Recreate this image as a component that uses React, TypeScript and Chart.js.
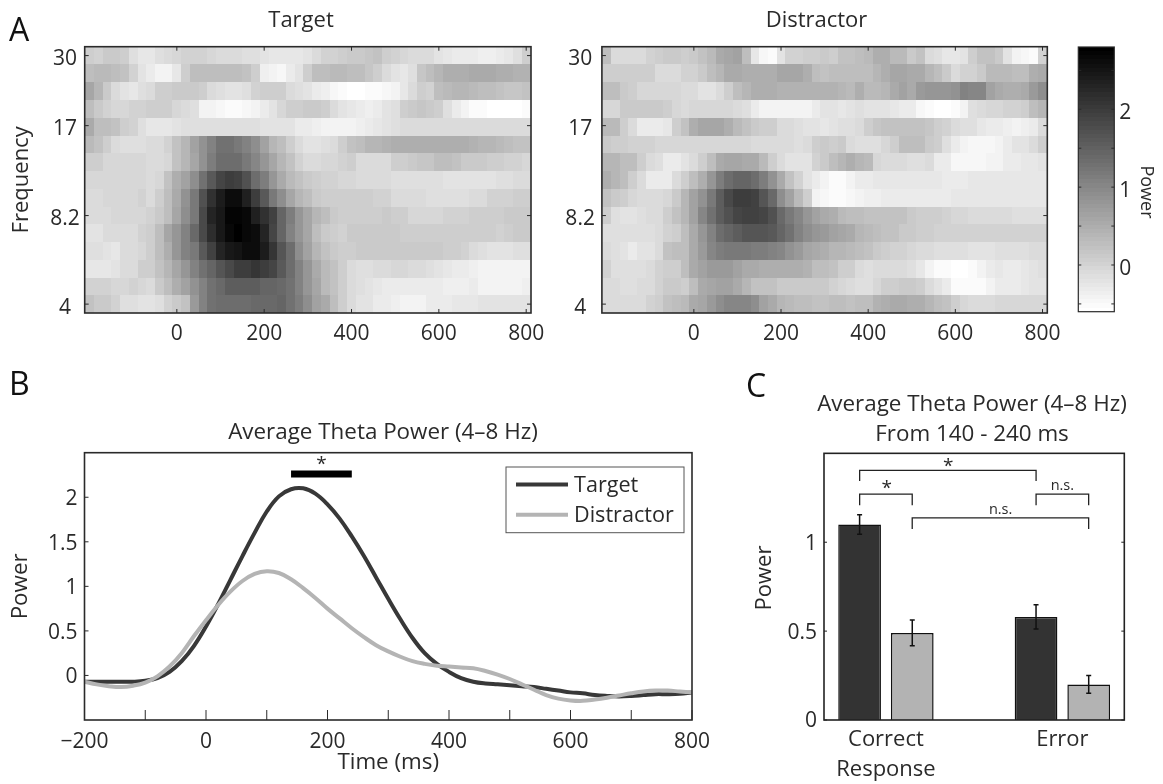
import React, { useEffect, useRef } from "react";
import { Chart, registerables } from "chart.js";

Chart.register(...registerables);

const FONT = '"Open Sans", sans-serif';
const INK = "#2a2a2a";

const frequencies = [30, 25.98, 22.5, 19.48, 16.87, 14.6, 12.65, 10.95, 9.48, 8.21, 7.11, 6.16, 5.33, 4.62, 4];
const times = [-200,-180,-160,-140,-120,-100,-80,-60,-40,-20,0,20,40,60,80,100,120,140,160,180,200,220,240,260,280,300,320,340,360,380,400,420,440,460,480,500,520,540,560,580,600,620,640,660,680,700,720,740,760,780,800];

const targetPower = [
  [.07,0,.13,.13,.07,-.13,-.24,-.24,-.16,-.07, -.03,0,.03,0,-.03,-.07,-.07,-.07,-.13,-.16, -.2,-.24,-.27,-.27,-.24,-.2,-.07,0,.03,.07, .13,.13,.16,.2,.07,0,-.03,-.07,-.07,-.11, -.2,-.27,-.29,-.29,-.33,-.37,-.37,-.29,-.24,-.16, .07],
  [.27,.33,.33,.27,.2,0,-.2,-.33,-.4,-.4, -.24,.07,.27,.29,.29,.29,.29,.27,.2,.07, -.37,-.4,-.47,-.33,-.2,.07,.27,.27,.33,.33, .29,.27,.16,.07,-.07,-.2,-.24,-.16,.16,.27, .4,.47,.51,.51,.56,.56,.53,.47,.47,.43, .43],
  [.6,.4,.13,-.07,-.2,-.27,-.16,-.07,.07,.07, .13,.13,.11,.07,-.07,-.16,-.2,-.2,-.13,0, .07,.07,.07,-.07,-.16,-.2,-.29,-.37,-.47,-.53, -.6,-.56,-.53,-.51,-.47,-.43,-.27,-.07,.07,0, .27,.33,.37,.37,.33,.29,.27,.2,.16,.16, .2],
  [.27,.13,0,-.03,-.03,0,.03,.07,.07,.07, -.03,-.11,-.16,-.4,-.43,-.47,-.51,-.51,-.47,-.4, -.33,-.2,-.03,.07,.07,.13,.13,.07,-.07,-.2, -.24,-.29,-.37,-.33,-.2,-.13,.07,.11,.16,.13, .07,-.13,-.33,-.4,-.51,-.53,-.6,-.6,-.6,-.6, -.53],
  [.53,.27,.27,.2,.07,0,-.16,-.24,-.24,-.24, -.2,-.16,-.13,-.13,-.13,-.16,-.16,-.16,-.16,-.16, -.2,-.2,-.2,-.2,-.29,-.33,-.37,-.4,-.43,-.43, -.4,-.37,-.33,-.27,-.2,-.13,-.11,-.11,-.11,-.11, -.11,-.11,-.11,-.11,-.07,-.07,-.07,-.07,-.07,-.07, -.07],
  [.33,.2,.07,-.07,-.13,-.13,-.16,-.07,-.07,0, .2,.4,.67,.87,1.07,1.27,1.27,1.2,1.07,.93, .67,.4,.27,.07,-.07,-.2,-.2,-.13,-.07,.07, .2,.27,.4,.4,.43,.47,.51,.51,.51,.47, .47,.47,.51,.47,.43,.4,.37,.33,.29,.2, .2],
  [.07,.07,-.03,-.03,-.03,-.03,-.03,-.11,-.07,-.03, .2,.4,.6,.87,1.13,1.33,1.33,1.33,1.2,1, .8,.6,.4,.2,0,-.07,-.07,-.03,-.03,0, .07,-.07,-.11,-.11,-.07,.07,.07,.13,.16,.16, .27,.27,.2,.13,.13,.13,.07,.07,0,0, -.03],
  [-.03,-.03,-.03,-.03,-.03,-.03,-.03,-.07,-.03,.2, .47,.67,.93,1.27,1.6,1.87,2,1.93,1.73,1.33, 1.13,.8,.53,.33,.2,.13,.07,0,0,-.03, -.03,-.07,-.11,-.07,-.07,-.13,-.13,-.13,-.13,-.13, -.13,-.2,-.2,-.2,-.2,-.2,-.2,-.16,-.13,-.11, -.07],
  [-.11,-.11,-.03,-.03,-.03,-.03,0,-.07,.07,.27, .53,.87,1.2,1.73,2.13,2.4,2.6,2.6,2.33,2, 1.6,1.2,.93,.6,.4,.27,.13,.07,.07,.07, .07,.07,.07,.03,0,-.07,-.07,-.07,-.11,-.16, -.16,-.16,-.16,-.16,-.11,-.07,0,.03,.03,.07, .07],
  [-.11,-.11,-.07,-.03,-.03,-.03,-.03,0,.13,.27, .6,.93,1.2,1.8,2.27,2.47,2.73,2.73,2.67,2.33, 2.13,1.93,1.47,1.13,.8,.6,.4,.27,.13,.07, .07,.07,.07,.07,.13,.07,.07,-.03,-.03,-.03, -.03,0,0,.03,.07,.07,.07,.07,.13,.13, .13],
  [-.2,-.2,-.11,-.07,-.07,-.07,0,.07,.27,.6, .8,1.07,1.4,1.8,2.2,2.47,2.67,2.8,2.69,2.6, 2.3,1.87,1.47,1.07,.8,.6,.27,.13,.07,.03, .1,.13,.13,.13,.13,.13,.07,.07,.07,.07, .07,.07,.07,.07,.07,.07,.07,.03,.07,.13, .13],
  [-.13,-.13,-.2,-.24,-.11,-.07,-.03,.07,.27,.47, .8,1.07,1.2,1.6,1.93,2.27,2.47,2.53,2.6,2.6, 2.4,2.07,1.67,1.33,.93,.67,.4,.2,.13,.07, .07,.1,.13,.13,.13,.13,.1,.1,.1,.1, .1,.07,.07,0,-.07,-.13,-.2,-.2,-.2,-.16, -.16],
  [-.24,-.24,-.24,-.2,-.11,-.07,.07,.07,.2,.4, .6,.8,1.07,1.27,1.47,1.67,1.8,2,2,2.07, 2,1.87,1.6,1.33,1.07,.8,.53,.33,.2,.07, -.07,-.16,-.16,-.07,-.07,-.03,-.03,-.11,-.11,-.16, -.2,-.24,-.29,-.33,-.37,-.4,-.4,-.4,-.4,-.4, -.4],
  [.03,.03,0,-.03,-.03,0,-.05,-.07,.13,.27, .47,.67,.87,1.07,1.27,1.4,1.53,1.53,1.53,1.53, 1.47,1.47,1.4,1.27,1.07,.8,.6,.33,.2,.07, -.07,-.16,-.2,-.27,-.33,-.33,-.33,-.33,-.33,-.33, -.33,-.37,-.37,-.37,-.33,-.4,-.4,-.4,-.4,-.43, -.37],
  [.2,.13,.13,.03,-.13,-.16,-.2,-.2,-.16,0, .13,.2,.73,1.07,1.27,1.33,1.33,1.33,1.33,1.4, 1.4,1.4,1.47,1.27,1.13,.93,.67,.53,.27,.07, -.07,-.2,-.2,-.33,-.33,-.37,-.4,-.4,-.4,-.33, -.29,-.29,-.24,-.24,-.24,-.2,-.2,-.2,-.2,-.2, -.2],
];

const distractorPower = [
  [.27,-.07,-.07,-.11,-.11,0,.07,.13,.13,.07, .13,.2,.33,.53,.6,.67,.27,-.27,-.47,-.51, -.2,0,0,.07,.07,.13,.07,.2,.2,.27, .33,.47,.47,.33,.33,.13,.2,-.07,-.13,-.24, -.24,-.2,.07,.2,.2,.13,-.2,-.4,-.47,-.53, 0],
  [.07,.07,.07,.07,.07,.07,-.07,-.07,-.07,.03, .03,.13,.27,.4,.53,.53,.51,.51,.51,.51, .6,.6,.6,.51,.27,.24,.27,.27,.27,.27, .27,.4,.47,.6,.6,.53,.53,.4,.27,.13, -.07,0,0,.13,.33,.33,.33,.27,.27,.47, .53],
  [.27,.27,.13,.07,-.03,-.03,-.03,-.03,-.03,-.11, -.11,-.2,-.2,-.07,.07,.27,.4,.47,.47,.47, .43,.43,.43,.43,.43,.43,.43,.4,.33,.47, .33,.33,.4,.53,.67,.53,.73,.8,.8,.8, .87,1.07,1,1,.67,.53,.47,.47,.53,.73, .93],
  [-.03,-.03,.13,.13,.13,.13,.13,.07,-.03,-.11, -.03,-.03,-.03,-.03,-.03,-.11,-.13,-.29,-.4,-.4, -.43,-.43,-.43,-.43,-.29,-.2,-.2,-.24,-.2,-.16, -.2,-.2,-.2,-.27,-.29,-.29,-.47,-.53,-.56,-.6, -.53,-.4,-.13,-.07,-.03,-.03,.03,.03,.07,.27, .4],
  [.33,.33,.07,-.07,-.29,-.33,-.29,-.24,.07,.2, .47,.6,.6,.6,.47,.33,.2,.13,.07,.07, -.07,-.11,-.13,-.2,-.2,-.24,-.2,-.16,-.16,-.11, .07,.16,.2,.2,.2,.2,.2,.16,.07,0, -.11,-.16,-.16,-.24,-.33,-.33,-.37,-.4,-.37,-.29, -.11],
  [.13,.07,.07,.03,0,0,-.03,-.03,-.03,-.03, -.03,-.03,-.03,-.03,-.03,-.03,-.03,-.07,-.07,-.07, -.11,-.11,-.13,-.11,.07,.13,.07,.13,-.07,-.16, -.16,-.16,-.03,.07,.27,.29,.29,.13,.07,-.13, -.33,-.43,-.47,-.47,-.47,-.4,-.29,-.2,-.2,-.07, .07],
  [.4,.4,.27,.27,.07,-.07,-.13,-.29,-.29,-.2, -.07,.07,.27,.53,.6,.6,.53,.53,.33,.07, -.07,-.2,-.2,-.2,0,.13,.27,.4,.47,.4, .33,-.03,-.07,-.07,-.11,-.13,-.13,-.07,-.29,-.33, -.47,-.47,-.47,-.47,-.4,-.4,-.29,-.29,-.27,-.27, -.2],
  [.47,.4,.27,.07,-.07,-.29,-.29,-.29,-.07,.07, .27,.47,.8,1.13,1.33,1.47,1.47,1.33,1.13,.87, .53,.2,0,-.2,-.33,-.4,-.51,-.51,-.4,-.33, -.29,-.24,-.24,-.24,-.24,-.24,-.24,-.24,-.24,-.29, -.29,-.29,-.24,-.24,-.24,-.24,-.24,-.24,-.24,-.24, -.24],
  [.2,.13,.07,-.03,-.11,-.11,-.11,-.03,.13,.4, .67,.87,1.2,1.53,1.8,2,2,1.93,1.67,1.4, .93,.67,.33,.07,-.4,-.47,-.53,-.53,-.47,-.4, -.37,-.37,-.29,-.29,-.29,-.29,-.29,-.29,-.29,-.29, -.27,-.27,-.27,-.27,-.27,-.27,-.27,-.27,-.27,-.27, -.27],
  [.07,-.16,-.2,-.2,-.16,-.07,-.07,.07,.2,.4, .67,1,1.27,1.53,1.73,1.87,1.93,1.93,1.87,1.73, 1.4,1.2,1,.8,.67,.53,.47,.33,.27,.27, .2,.2,.2,.2,.2,.13,.07,.07,.07,0, -.03,-.03,-.07,-.07,-.07,-.07,-.11,-.16,-.16,-.16, -.16],
  [-.16,-.16,-.16,-.16,-.16,-.16,-.07,0,.07,.27, .53,.8,1.07,1.33,1.47,1.53,1.67,1.67,1.67,1.6, 1.47,1.27,1.07,.93,.8,.73,.67,.6,.53,.4, .33,.27,.2,.2,.13,.13,.07,.07,.03,.03, .03,.03,.03,.03,.03,.03,.03,0,0,0, 0],
  [-.11,-.16,-.2,-.33,-.2,-.2,-.11,.2,.27,.27, .53,.73,1,1.13,1.2,1.2,1.2,1.13,1.13,1.07, 1,.87,.73,.6,.53,.47,.4,.4,.33,.27, .2,.13,.07,.03,0,-.03,-.07,-.07,-.16,-.16, -.16,-.16,-.2,-.2,-.2,-.16,-.16,-.13,-.13,-.11, -.11],
  [0,-.16,-.16,-.16,-.16,-.07,0,.07,.07,.27, .53,.67,.73,.73,.73,.67,.53,.53,.47,.47, .47,.47,.47,.43,.27,.27,.2,.07,.07,-.07, -.13,-.11,-.11,-.11,-.11,-.13,-.24,-.4,-.51,-.53, -.6,-.6,-.53,-.43,-.33,-.24,-.29,-.33,-.27,-.2, -.16],
  [-.07,-.07,-.16,-.16,-.11,-.07,0,.13,.13,.07, .27,.53,.6,.67,.67,.53,.4,.2,.2,.2, .13,.13,.13,.13,.13,.13,0,-.03,-.11,-.13, -.13,-.03,.07,.07,.13,.13,.07,-.07,-.2,-.33, -.51,-.53,-.53,-.53,-.43,-.33,-.29,-.29,-.24,-.2, -.2],
  [-.07,-.07,-.07,-.11,-.07,0,.07,.2,.27,.33, .53,.6,.73,.93,1,1,1,.93,.67,.53, .4,.33,.27,.27,.2,.2,.27,.27,.2,.27, .27,.43,.51,.53,.53,.51,.47,.37,.29,.2, .07,-.03,-.07,-.07,-.07,-.03,-.03,-.03,-.03,-.03, -.03],
];

const heatXTicks = [0, 200, 400, 600, 800];
const heatYTicks = [4, 8.2, 17, 30];
const colorTicks = [-0.5, 0, 0.5, 1, 1.5, 2, 2.5];

const targetLine = [-.07,-.07,-.07,-.07,-.07,-.06,-.03,.04,.16,.33, .55,.8,1.07,1.34,1.6,1.84,2.01,2.09,2.1,2.04, 1.92,1.76,1.56,1.34,1.1,.86,.63,.42,.25,.13, .04,-.03,-.07,-.09,-.1,-.11,-.12,-.13,-.15,-.17, -.19,-.2,-.22,-.23,-.235,-.23,-.22,-.21,-.21,-.205, -.19];
const distractorLine = [-.07,-.1,-.12,-.13,-.115,-.08,-.01,.1,.25,.44, .62,.79,.94,1.06,1.14,1.17,1.15,1.08,.98,.87, .75,.64,.53,.43,.34,.27,.21,.16,.13,.11, .1,.09,.08,.05,.01,-.04,-.1,-.16,-.22,-.26, -.28,-.285,-.27,-.25,-.225,-.2,-.18,-.17,-.17,-.18, -.19];
const sigWindow = [140, 240];
const sigLevel = 2.26;

const conditions = [1, 2];
const conditionLabels = [["Correct", "Response"], ["Error"]];
const targetBars = [1.1, 0.58];
const distractorBars = [0.49, 0.2];
const targetErr = [0.055, 0.068];
const distractorErr = [0.073, 0.05];
const barOffset = 0.149;

function grayFor(v: number) {
  const idx = Math.max(0, Math.min(63, Math.floor(((v + 0.6) / 3.4) * 64)));
  const g = Math.round(255 * (1 - idx / 63));
  return `rgb(${g},${g},${g})`;
}

const heatCells = {
  id: "heatCells",
  beforeDatasetsDraw(chart: any) {
    const { ctx, scales } = chart;
    const pts = chart.data.datasets[0].data;
    const xs: number[] = chart.options.plugins.heatCells.xs;
    const ys: number[] = chart.options.plugins.heatCells.ys;
    const xStep = xs.length > 1 ? Math.abs(scales.x.getPixelForValue(xs[1]) - scales.x.getPixelForValue(xs[0])) : chart.chartArea.width;
    const yPix = ys.map((y) => scales.y.getPixelForValue(y));
    ctx.save();
    const a = chart.chartArea;
    ctx.beginPath();
    ctx.rect(a.left, a.top, a.width, a.height);
    ctx.clip();
    for (const p of pts) {
      const cx = xs.length > 1 ? scales.x.getPixelForValue(p.x) : a.left + a.width / 2;
      const i = ys.indexOf(p.y);
      const up = i > 0 ? (yPix[i] - yPix[i - 1]) / 2 : i + 1 < ys.length ? (yPix[i + 1] - yPix[i]) / 2 : 0;
      const dn = i + 1 < ys.length ? (yPix[i + 1] - yPix[i]) / 2 : up;
      const ax = Math.round(cx - xStep / 2);
      const bx = Math.round(cx + xStep / 2);
      const ay = Math.round(yPix[i] - Math.abs(up));
      const by = Math.round(yPix[i] + Math.abs(dn));
      ctx.fillStyle = grayFor(p.v);
      ctx.fillRect(ax, ay, bx - ax, by - ay);
    }
    ctx.restore();
  },
};

const panelFrame = {
  id: "panelFrame",
  afterDatasetsDraw(chart: any) {
    const o = chart.options.plugins.panelFrame;
    const { ctx, chartArea: a, scales } = chart;
    ctx.save();
    ctx.strokeStyle = o.color;
    ctx.lineWidth = o.width;
    ctx.strokeRect(a.left, a.top, a.width, a.height);
    ctx.lineWidth = o.tickWidth;
    ctx.beginPath();
    if (o.xTick && scales.x.options.display) {
      for (const t of scales.x.ticks) {
        const x = scales.x.getPixelForValue(t.value);
        ctx.moveTo(x, a.bottom);
        ctx.lineTo(x, a.bottom - o.xTick);
        if (o.mirrorX) {
          ctx.moveTo(x, a.top);
          ctx.lineTo(x, a.top + o.xTick);
        }
      }
    }
    if (o.yTick) {
      for (const t of scales.y.ticks) {
        const y = scales.y.getPixelForValue(t.value);
        ctx.moveTo(a.left, y);
        ctx.lineTo(a.left + o.yTick, y);
        if (o.mirrorY) {
          ctx.moveTo(a.right, y);
          ctx.lineTo(a.right - o.yTick, y);
        }
      }
    }
    ctx.stroke();
    ctx.restore();
  },
};

const noteText = {
  id: "noteText",
  afterDatasetsDraw(chart: any) {
    const notes = chart.options.plugins.noteText.notes || [];
    const { ctx, scales } = chart;
    ctx.save();
    ctx.fillStyle = INK;
    ctx.textAlign = "center";
    ctx.textBaseline = "middle";
    for (const n of notes) {
      const x = n.px !== undefined ? n.px : scales.x.getPixelForValue(n.x);
      const y = n.py !== undefined ? n.py : scales.y.getPixelForValue(n.y);
      ctx.save();
      ctx.translate(x, y);
      if (n.rotate) ctx.rotate(n.rotate);
      ctx.font = `${n.size}px ${FONT}`;
      ctx.fillText(n.text, 0, 0);
      ctx.restore();
    }
    ctx.restore();
  },
};

const titleShift = {
  id: "titleShift",
  afterLayout(chart: any) {
    const cx = chart.options.plugins.titleShift.cx;
    const t = chart.titleBlock;
    if (cx === undefined || !t) return;
    const half = t.width / 2;
    t.left = cx - half;
    t.right = cx + half;
  },
};

const errorBars = {
  id: "errorBars",
  afterDatasetsDraw(chart: any) {
    const { ctx, scales } = chart;
    ctx.save();
    ctx.strokeStyle = "#111";
    ctx.lineWidth = 1.5;
    chart.data.datasets.forEach((ds: any, di: number) => {
      if (!ds.errors) return;
      chart.getDatasetMeta(di).data.forEach((bar: any, i: number) => {
        const v = ds.data[i].y;
        const top = scales.y.getPixelForValue(v + ds.errors[i]);
        const low = scales.y.getPixelForValue(v - ds.errors[i]);
        ctx.beginPath();
        ctx.moveTo(bar.x, top);
        ctx.lineTo(bar.x, low);
        ctx.moveTo(bar.x - 2.5, top);
        ctx.lineTo(bar.x + 2.5, top);
        ctx.moveTo(bar.x - 2.5, low);
        ctx.lineTo(bar.x + 2.5, low);
        ctx.stroke();
      });
    });
    ctx.restore();
  },
};

const boxLegend = {
  id: "boxLegend",
  afterDatasetsDraw(chart: any) {
    const { ctx } = chart;
    const o = chart.options.plugins.boxLegend;
    const items = chart.data.datasets.filter((d: any) => d.label);
    ctx.save();
    ctx.fillStyle = "#fff";
    ctx.fillRect(o.x, o.y, o.w, o.h);
    ctx.strokeStyle = "#555";
    ctx.lineWidth = 1;
    ctx.strokeRect(o.x, o.y, o.w, o.h);
    ctx.textBaseline = "middle";
    ctx.textAlign = "left";
    ctx.font = `${o.size}px ${FONT}`;
    items.forEach((d: any, i: number) => {
      const y = o.y + o.first + i * o.gap;
      ctx.strokeStyle = d.borderColor;
      ctx.lineWidth = d.borderWidth;
      ctx.beginPath();
      ctx.moveTo(o.x + 10, y);
      ctx.lineTo(o.x + 62, y);
      ctx.stroke();
      ctx.fillStyle = INK;
      ctx.fillText(d.label, o.x + 68, y + 1);
    });
    ctx.restore();
  },
};

type Box = { l: number; t: number; r: number; b: number };

function placed(box: Box, plot: Box) {
  return {
    padding: { top: 0, right: box.r - plot.r, left: 0, bottom: 0 },
    xFit: (s: any) => { s.height = box.b - plot.b; },
    yFit: (s: any) => { s.width = plot.l - box.l; },
  };
}

const tickFont = { family: FONT, size: 21 };
const baseOpts = { responsive: false, animation: false as const, maintainAspectRatio: false };

function heatConfig(box: Box, plot: Box, rows: number[][], title: string, titleX: number, showYTitle: boolean, yPad: number) {
  const p = placed(box, plot);
  const cells: any[] = [];
  rows.forEach((row, r) => row.forEach((v, c) => cells.push({ x: times[c], y: frequencies[r], v })));
  return {
    type: "scatter",
    data: { datasets: [{ label: title, data: cells, pointRadius: 0, showLine: false }] },
    options: {
      ...baseOpts,
      layout: { padding: p.padding },
      plugins: {
        legend: { display: false },
        tooltip: { enabled: false },
        title: { display: true, text: title, color: INK, font: { family: FONT, size: 22, weight: "normal", lineHeight: 1.2 }, padding: { top: 7.8, bottom: plot.t - box.t - 7.8 - 26.4 } },
        titleShift: { cx: titleX - box.l },
        heatCells: { xs: times, ys: frequencies },
        panelFrame: { color: INK, width: 1.6, tickWidth: 1, xTick: 4, yTick: 4, mirrorX: true, mirrorY: true },
        noteText: { notes: [] },
      },
      scales: {
        x: {
          type: "linear", min: -211, max: 811,
          afterBuildTicks: (s: any) => { s.ticks = heatXTicks.map((value) => ({ value })); },
          afterFit: p.xFit,
          grid: { display: false, drawTicks: false }, border: { display: false },
          ticks: { color: INK, font: tickFont, padding: 8, maxRotation: 0, autoSkip: false, callback: (v: any) => String(v) },
        },
        y: {
          type: "logarithmic", min: 3.722, max: 32.24,
          afterBuildTicks: (s: any) => { s.ticks = heatYTicks.map((value) => ({ value })); },
          afterFit: p.yFit,
          grid: { display: false, drawTicks: false }, border: { display: false },
          title: { display: showYTitle, text: "Frequency", color: INK, font: { family: FONT, size: 22 }, padding: { top: 8.8, bottom: 0 } },
          ticks: { color: INK, font: tickFont, padding: yPad, labelOffset: 3.5, crossAlign: "center", autoSkip: false, callback: (v: any) => String(v) },
        },
      },
    },
    plugins: [heatCells, panelFrame, noteText, titleShift],
  };
}

function colorbarConfig(box: Box, plot: Box) {
  const levels: any[] = [];
  for (let i = 0; i < 64; i++) levels.push({ x: 0, y: -0.6 + ((i + 0.5) * 3.4) / 64, v: -0.6 + ((i + 0.5) * 3.4) / 64 });
  const ys = levels.map((d) => d.y);
  return {
    type: "scatter",
    data: { datasets: [{ label: "Power", data: levels, pointRadius: 0, showLine: false }] },
    options: {
      ...baseOpts,
      layout: { padding: { top: plot.t - box.t, left: plot.l - box.l, bottom: box.b - plot.b, right: 0 } },
      plugins: {
        legend: { display: false },
        tooltip: { enabled: false },
        heatCells: { xs: [0], ys },
        panelFrame: { color: INK, width: 1.2, tickWidth: 1, xTick: 0, yTick: 3, mirrorY: true },
        noteText: { notes: [{ text: "Power", px: 1146.5 - box.l, py: 192 - box.t, size: 18, rotate: Math.PI / 2 }] },
      },
      scales: {
        x: { type: "linear", display: false, min: -1, max: 1 },
        y: {
          type: "linear", position: "right", min: -0.6, max: 2.8,
          afterBuildTicks: (s: any) => { s.ticks = colorTicks.map((value) => ({ value })); },
          afterFit: (s: any) => { s.width = box.r - plot.r; },
          grid: { display: false, drawTicks: false }, border: { display: false },
          ticks: { color: INK, font: tickFont, padding: 5, labelOffset: 4, autoSkip: false, callback: (v: any) => (Number.isInteger(v) ? String(v) : "") },
        },
      },
    },
    plugins: [heatCells, panelFrame, noteText],
  };
}

function lineConfig(box: Box, plot: Box) {
  const p = placed(box, plot);
  const pts = (vals: number[]) => vals.map((y, i) => ({ x: times[i], y }));
  return {
    type: "line",
    data: {
      datasets: [
        { label: "Target", data: pts(targetLine), borderColor: "#383838", borderWidth: 4, pointRadius: 0, tension: 0.4, order: 2 },
        { label: "Distractor", data: pts(distractorLine), borderColor: "#b4b4b4", borderWidth: 4, pointRadius: 0, tension: 0.4, order: 1 },
        { data: sigWindow.map((x) => ({ x, y: sigLevel })), borderColor: "#000", borderWidth: 7, pointRadius: 0, order: 0 },
      ],
    },
    options: {
      ...baseOpts,
      layout: { padding: p.padding },
      plugins: {
        legend: { display: false },
        tooltip: { enabled: false },
        title: { display: true, text: "Average Theta Power (4–8 Hz)", color: INK, font: { family: FONT, size: 22.4, weight: "normal", lineHeight: 1.2 }, padding: { top: 9.6, bottom: plot.t - box.t - 9.6 - 26.88 } },
        titleShift: { cx: 383 - box.l },
        panelFrame: { color: INK, width: 1.6, tickWidth: 1, xTick: 10, yTick: 4 },
        noteText: { notes: [{ text: "*", x: 190, y: 2.37, size: 19 }] },
        boxLegend: { x: 506 - box.l, y: 467 - box.t, w: 178, h: 65.7, size: 21.6, first: 17.5, gap: 30.2 },
      },
      scales: {
        x: {
          type: "linear", min: -200, max: 800,
          afterBuildTicks: (s: any) => { s.ticks = [-200,-100,0,100,200,300,400,500,600,700,800].map((value) => ({ value })); },
          afterFit: p.xFit,
          grid: { display: false, drawTicks: false }, border: { display: false },
          title: { display: true, text: "Time (ms)", color: INK, font: { family: FONT, size: 22.4 }, padding: { top: 0, bottom: 7.6 } },
          ticks: { color: INK, font: tickFont, padding: 9, maxRotation: 0, autoSkip: false, callback: (v: any) => (v % 200 === 0 ? String(v).replace("-", "\u2212") : "") },
        },
        y: {
          type: "linear", min: -0.5, max: 2.5,
          afterBuildTicks: (s: any) => { s.ticks = [0, 0.5, 1, 1.5, 2].map((value) => ({ value })); },
          afterFit: p.yFit,
          grid: { display: false, drawTicks: false }, border: { display: false },
          title: { display: true, text: "Power", color: INK, font: { family: FONT, size: 22.4 }, padding: { top: 7.6, bottom: 0 } },
          ticks: { color: INK, font: tickFont, padding: 7, labelOffset: 2, autoSkip: false, callback: (v: any) => String(v) },
        },
      },
    },
    plugins: [panelFrame, noteText, boxLegend, titleShift],
  };
}

function bracket(x1: number, x2: number, top: number, low: number) {
  return {
    type: "line",
    data: [{ x: x1, y: low }, { x: x1, y: top }, { x: x2, y: top }, { x: x2, y: low }],
    borderColor: "#222", borderWidth: 1.3, pointRadius: 0, tension: 0, order: 0,
  };
}

function barConfig(box: Box, plot: Box) {
  const p = placed(box, plot);
  const pts = (vals: number[]) => vals.map((y, i) => ({ x: conditions[i], y }));
  const c1 = conditions[0] - barOffset, d1 = conditions[0] + barOffset;
  const c2 = conditions[1] - barOffset, d2 = conditions[1] + barOffset;
  const common = { borderColor: "#111", borderWidth: 1.5, categoryPercentage: 0.597, barPercentage: 0.811, order: 1 };
  return {
    type: "bar",
    data: {
      datasets: [
        { ...common, label: "Target", data: pts(targetBars), errors: targetErr, backgroundColor: "#333333" },
        { ...common, label: "Distractor", data: pts(distractorBars), errors: distractorErr, backgroundColor: "#b3b3b3" },
        bracket(c1, c2, 1.404, 1.345),
        bracket(c1, d1, 1.27, 1.208),
        bracket(c2, d2, 1.27, 1.208),
        bracket(d1, d2, 1.137, 1.075),
      ],
    },
    options: {
      ...baseOpts,
      layout: { padding: p.padding },
      plugins: {
        legend: { display: false },
        tooltip: { enabled: false },
        title: { display: true, text: ["Average Theta Power (4–8 Hz)", "From 140 - 240 ms"], color: INK, font: { family: FONT, size: 22.4, weight: "normal", lineHeight: 1.34 }, padding: { top: 5, bottom: plot.t - box.t - 5 - 60 } },
        titleShift: { cx: 972 - box.l },
        panelFrame: { color: "#222", width: 1.6, tickWidth: 1, xTick: 0, yTick: 3, mirrorY: true },
        noteText: {
          notes: [
            { text: "*", x: 1.353, y: 1.427, size: 19 },
            { text: "*", x: 1.004, y: 1.3, size: 19 },
            { text: "n.s.", x: 2, y: 1.316, size: 14.5 },
            { text: "n.s.", x: 1.65, y: 1.184, size: 14.5 },
            { text: "Power", px: 765 - box.l, py: 578 - box.t, size: 22, rotate: -Math.PI / 2 },
          ],
        },
      },
      scales: {
        x: {
          type: "linear", offset: false, min: 0.649, max: 2.351,
          afterBuildTicks: (s: any) => { s.ticks = conditions.map((value) => ({ value })); },
          afterFit: p.xFit,
          grid: { display: false, drawTicks: false }, border: { display: false },
          ticks: { color: INK, font: { family: FONT, size: 22, lineHeight: 1.36 }, padding: 5, maxRotation: 0, autoSkip: false, callback: (v: any) => conditionLabels[conditions.indexOf(v)] },
        },
        y: {
          type: "linear", min: 0, max: 1.5,
          afterBuildTicks: (s: any) => { s.ticks = [0, 0.5, 1].map((value) => ({ value })); },
          afterFit: p.yFit,
          grid: { display: false, drawTicks: false }, border: { display: false },
          ticks: { color: INK, font: tickFont, padding: 7, labelOffset: 1.5, autoSkip: false, callback: (v: any) => String(v) },
        },
      },
    },
    plugins: [panelFrame, noteText, errorBars, titleShift],
  };
}

function Panel({ box, make }: { box: Box; make: () => any }) {
  const ref = useRef<HTMLCanvasElement | null>(null);
  useEffect(() => {
    const chart = new Chart(ref.current as HTMLCanvasElement, make());
    return () => chart.destroy();
  }, []);
  return (
    <canvas
      ref={ref}
      width={box.r - box.l}
      height={box.b - box.t}
      style={{ position: "absolute", left: box.l, top: box.t, width: box.r - box.l, height: box.b - box.t }}
    />
  );
}

const letter = (text: string, left: number, top: number) => (
  <div style={{ position: "absolute", left, top, font: `32px/36px ${FONT}`, color: "#111" }}>{text}</div>
);

const boxA: Box = { l: 0, t: 0, r: 602, b: 350 };
const plotA: Box = { l: 84.7, t: 46.7, r: 531, b: 313 };
const boxD: Box = { l: 545, t: 0, r: 1087, b: 350 };
const plotD: Box = { l: 601.9, t: 46.7, r: 1047.3, b: 313 };
const boxC: Box = { l: 1060, t: 0, r: 1163, b: 350 };
const plotC: Box = { l: 1078.3, t: 47, r: 1114.3, b: 311.7 };
const boxL: Box = { l: 0, t: 410, r: 766, b: 784 };
const plotL: Box = { l: 84.5, t: 452.7, r: 692, b: 720 };
const boxB: Box = { l: 740, t: 385, r: 1163, b: 784 };
const plotB: Box = { l: 824, t: 453.3, r: 1124.3, b: 720 };

export default function App() {
  useEffect(() => {
    document.body.style.margin = "0";
    document.body.style.overflow = "hidden";
  }, []);
  return (
    <div style={{ position: "absolute", left: 0, top: 0, width: 1163, height: 784, background: "#fff", overflow: "hidden" }}>
      <Panel box={boxA} make={() => heatConfig(boxA, plotA, targetPower, "Target", 301, true, 5)} />
      <Panel box={boxD} make={() => heatConfig(boxD, plotD, distractorPower, "Distractor", 816.5, false, 7)} />
      <Panel box={boxC} make={() => colorbarConfig(boxC, plotC)} />
      <Panel box={boxL} make={() => lineConfig(boxL, plotL)} />
      <Panel box={boxB} make={() => barConfig(boxB, plotB)} />
      {letter("A", 9, 11)}
      {letter("B", 9, 365)}
      {letter("C", 746, 367)}
    </div>
  );
}
